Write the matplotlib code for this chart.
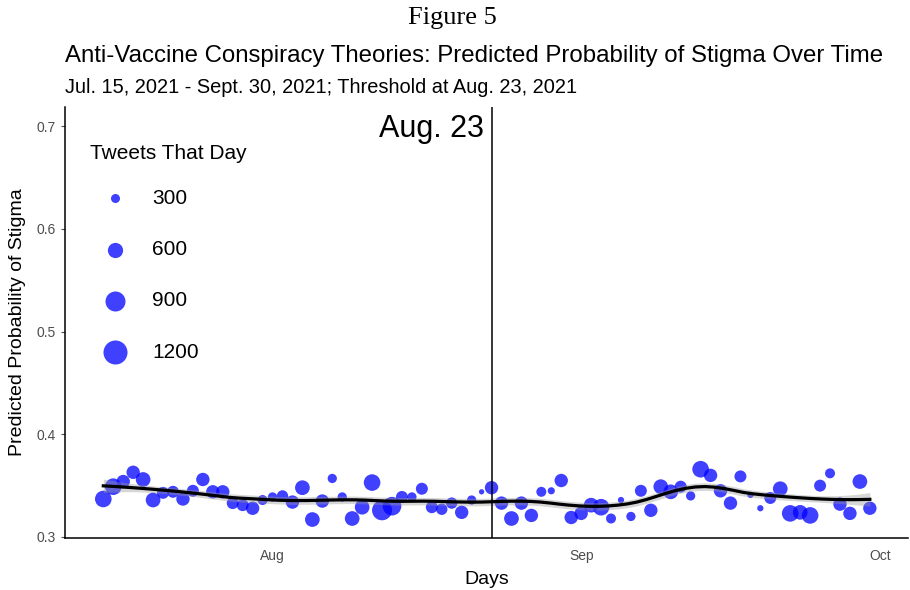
import numpy as np
import pandas as pd
import matplotlib
matplotlib.use("Agg")
import matplotlib.pyplot as plt
import matplotlib.dates as mdates

START_DATE = "2021-07-15"
END_DATE = "2021-09-30"
THRESHOLD_DATE = "2021-08-23"

# predicted probability of stigma, one value per day (Jul 15 - Sep 30)
stigma_prob = [
    0.337, 0.349, 0.354, 0.363, 0.356, 0.336, 0.343, 0.344, 0.337, 0.345,
    0.356, 0.344, 0.344, 0.333, 0.331, 0.328, 0.336, 0.339, 0.340, 0.334,
    0.348, 0.317, 0.335, 0.357, 0.339, 0.318, 0.329, 0.353, 0.326, 0.330,
    0.339, 0.339, 0.347, 0.329, 0.327, 0.333, 0.324, 0.336, 0.344, 0.348,
    0.333, 0.318, 0.333, 0.321, 0.344, 0.345, 0.355, 0.319, 0.323, 0.331,
    0.329, 0.318, 0.336, 0.320, 0.345, 0.326, 0.349, 0.344, 0.349, 0.340,
    0.366, 0.360, 0.345, 0.333, 0.359, 0.341, 0.328, 0.338, 0.347, 0.323,
    0.324, 0.321, 0.350, 0.362, 0.332, 0.323, 0.354, 0.328,
]

# tweets per day
tweets = [
    680, 680, 500, 500, 570, 570, 430, 430, 500, 430,
    500, 500, 500, 430, 430, 500, 340, 310, 400, 500,
    570, 570, 500, 310, 310, 570, 570, 680, 900, 810,
    430, 310, 430, 430, 400, 400, 500, 310, 170, 500,
    500, 570, 500, 500, 340, 230, 500, 500, 500, 570,
    680, 340, 200, 310, 430, 500, 570, 570, 430, 310,
    680, 500, 500, 500, 430, 200, 200, 430, 570, 680,
    570, 680, 430, 340, 500, 500, 570, 500,
]

legend_sizes = [300, 600, 900, 1200]

DPI = 100


def marker_area(n):
    # diameter in pixels grows with sqrt of tweet count
    d_px = -6 + 0.867 * np.sqrt(np.asarray(n, dtype=float))
    return (d_px * 72 / DPI) ** 2


def loess(x, y, grid, span=0.35):
    n = len(x)
    k = int(np.ceil(span * n))
    fit = np.empty(len(grid))
    rows = []
    for i, x0 in enumerate(grid):
        d = np.abs(x - x0)
        h = np.sort(d)[k - 1]
        w = np.clip(1 - (d / h) ** 3, 0, None) ** 3
        X = np.vstack([np.ones(n), x - x0, (x - x0) ** 2]).T
        XtW = X.T * w
        L = np.linalg.solve(XtW @ X, XtW)[0]
        rows.append(L)
        fit[i] = L @ y
    return fit, np.array(rows)


dates = pd.date_range(START_DATE, END_DATE, freq="D")
y = np.array(stigma_prob)
xnum = mdates.date2num(dates)
x0 = xnum - xnum[0]

grid = np.linspace(x0[0], x0[-1], 80)
fit, L = loess(x0, y, grid)
_, L_obs = loess(x0, y, x0)
resid = y - L_obs @ y
sigma = np.sqrt(np.sum(resid ** 2) / (len(y) - np.trace(L_obs)))
se = sigma * np.sqrt(np.sum(L ** 2, axis=1))
grid_dates = grid + xnum[0]

plt.rcParams['font.family'] = ['Liberation Sans', 'DejaVu Sans']

fig = plt.figure(figsize=(9.1, 5.9), dpi=DPI)
ax = fig.add_axes([0.0714, 0.0881, 0.9266, 0.7305])

ax.scatter(xnum, y, s=marker_area(tweets), color="#0000FF", alpha=0.75,
           linewidths=0, zorder=2)
ax.fill_between(grid_dates, fit - se, fit + se,
                color="#999999", alpha=0.4, linewidth=0, zorder=3)
ax.plot(grid_dates, fit, color="black", linewidth=2.3, zorder=4)

thr = mdates.date2num(pd.Timestamp(THRESHOLD_DATE))
ax.axvline(thr, color="black", linewidth=1.1, zorder=5)
ax.text(thr - 0.8, 0.697, "Aug. 23", ha="right", va="center", fontsize=22)

pad = 0.05 * (xnum[-1] - xnum[0])
ax.set_xlim(xnum[0] - pad, xnum[-1] + pad)
ax.set_ylim(0.299, 0.7187)

ax.set_yticks([0.3, 0.4, 0.5, 0.6, 0.7])
ax.xaxis.set_major_locator(mdates.MonthLocator())
ax.xaxis.set_major_formatter(mdates.DateFormatter("%b"))
ax.tick_params(axis="y", colors="#4D4D4D", labelsize=10, length=3, width=0.8,
               labelcolor="#4D4D4D")
ax.tick_params(axis="x", labelsize=10, length=0, pad=8, labelcolor="#4D4D4D")

for side in ["top", "right"]:
    ax.spines[side].set_visible(False)
for side in ["left", "bottom"]:
    ax.spines[side].set_linewidth(1.1)

ax.set_xlabel("Days", fontsize=14, labelpad=6)
ax.set_ylabel("Predicted Probability of Stigma", fontsize=14, labelpad=8)

handles = [ax.scatter([], [], s=marker_area(n), color="#0000FF", alpha=0.75,
                      linewidths=0) for n in legend_sizes]
leg = ax.legend(handles, [str(n) for n in legend_sizes], title="Tweets That Day",
                loc="upper left", bbox_to_anchor=(0.03, 0.915), frameon=False,
                fontsize=15, title_fontsize=15, labelspacing=1.55,
                handlelength=2.4, handletextpad=0.57, borderpad=0,
                borderaxespad=0)
leg._legend_box.align = "left"
# tighter gap between legend title and first entry
leg._legend_box.sep = 18.9

fig.text(0.497, 0.97, "Figure 5", ha="center", va="center",
         fontsize=19, family="Liberation Serif")
fig.text(0.0714, 0.905, "Anti-Vaccine Conspiracy Theories: Predicted Probability of Stigma Over Time",
         ha="left", va="center", fontsize=17.3)
fig.text(0.0714, 0.852, "Jul. 15, 2021 - Sept. 30, 2021; Threshold at Aug. 23, 2021",
         ha="left", va="center", fontsize=14.4)

fig.savefig("out.png", dpi=DPI)
